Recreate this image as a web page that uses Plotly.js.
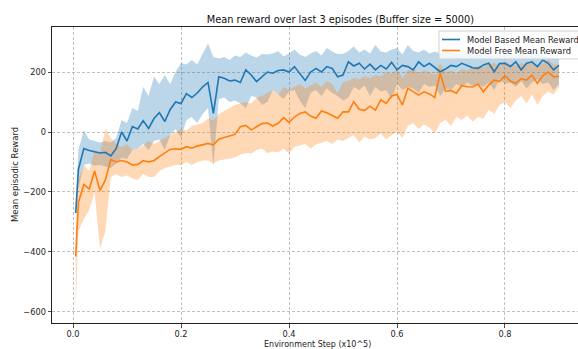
<!DOCTYPE html>
<html>
<head>
<meta charset="utf-8">
<script src="https://cdn.plot.ly/plotly-3.0.1.min.js"></script>
<style>html,body{margin:0;padding:0;background:#fff;}#chart{width:578px;height:349px;}</style>
</head>
<body>
<div id="chart"></div>
<script>
const steps = [0.005,0.01,0.02,0.03,0.04,0.05,0.06,0.07,0.08,0.09,0.10,0.11,0.12,0.13,0.14,0.15,0.16,0.17,0.18,0.19,0.20,0.21,0.22,0.23,0.24,0.25,0.26,0.27,0.28,0.29,0.30,0.31,0.32,0.33,0.34,0.35,0.36,0.37,0.38,0.39,0.40,0.41,0.42,0.43,0.44,0.45,0.46,0.47,0.48,0.49,0.50,0.51,0.52,0.53,0.54,0.55,0.56,0.57,0.58,0.59,0.60,0.61,0.62,0.63,0.64,0.65,0.66,0.67,0.68,0.69,0.70,0.71,0.72,0.73,0.74,0.75,0.76,0.77,0.78,0.79,0.80,0.81,0.82,0.83,0.84,0.85,0.86,0.87,0.88,0.89,0.90];

const basedMean = [-270,-125,-55,-62,-66,-70,-68,-80,-55,0,-30,18,10,38,12,45,65,35,75,100,95,128,115,130,150,165,62,184,179,170,173,165,207,190,168,185,200,196,205,207,200,218,194,172,200,212,200,218,212,184,190,234,220,229,210,226,207,222,210,232,207,222,218,207,234,218,229,215,201,210,222,218,229,222,214,212,223,229,201,228,229,218,234,207,229,234,218,240,229,207,222];
const basedUpper = [-240,-60,5,-25,-30,-35,-30,-35,-20,40,30,80,70,150,120,185,160,190,160,200,230,225,240,225,260,295,250,245,250,240,255,250,265,255,248,260,258,262,270,252,262,275,258,250,262,270,255,280,268,260,260,270,285,265,275,262,290,268,265,275,280,258,290,270,265,275,262,268,262,270,265,260,258,262,258,255,262,258,255,262,258,260,255,262,252,258,260,255,250,248,245];
const basedLower = [-300,-190,-110,-105,-112,-110,-115,-120,-105,-85,-90,-60,-55,-40,-60,-30,-25,-60,-10,10,-20,40,50,30,60,80,-115,110,115,100,105,95,80,120,115,90,100,140,125,110,135,140,105,80,130,140,120,145,130,120,105,115,150,140,155,120,150,135,140,110,160,140,150,145,130,160,150,155,120,145,140,160,150,165,155,160,150,165,140,175,160,165,150,170,145,165,175,160,165,140,160];

const freeMean = [-415,-235,-175,-190,-130,-195,-160,-92,-100,-95,-100,-110,-108,-95,-100,-95,-82,-70,-58,-56,-58,-49,-54,-47,-42,-38,-43,-24,-18,-14,-8,18,22,7,18,28,30,20,29,48,32,50,62,67,53,46,70,64,55,46,67,67,101,76,72,86,73,107,95,120,125,90,146,135,123,134,127,115,196,136,138,129,155,151,150,160,134,157,173,168,188,170,162,178,173,190,162,188,200,184,186];
const freeUpper = [-330,-160,-110,-130,-60,-70,10,-20,-40,-50,-40,-60,-55,-45,-30,-40,-30,-20,-10,0,10,5,20,25,30,45,40,60,70,80,90,95,100,95,115,120,130,140,125,150,140,150,160,145,155,165,150,170,160,130,165,170,180,175,185,180,190,185,200,195,210,180,205,210,195,205,200,190,230,200,205,195,210,205,215,220,215,225,230,220,235,225,220,230,225,235,220,230,240,225,225];
const freeLower = [-590,-330,-290,-260,-200,-390,-330,-150,-140,-150,-145,-155,-160,-140,-150,-150,-130,-120,-115,-110,-110,-100,-110,-100,-95,-95,-105,-95,-90,-88,-85,-75,-70,-72,-60,-55,-70,-65,-68,-55,-72,-50,-45,-40,-55,-42,-35,-30,-40,-25,-30,-20,-10,-35,-15,-25,-20,-5,-25,-10,0,-20,20,30,10,25,15,-5,30,40,20,50,40,55,35,50,45,75,60,90,100,80,105,120,95,125,90,120,135,125,150];

const seriesNames = ['Model Based Mean Reward','Model Free Mean Reward'];
const seriesColors = ['#1f77b4','#ff7f0e'];
const xTicks = [0,0.2,0.4,0.6,0.8];
const xTickText = ['0.0','0.2','0.4','0.6','0.8'];
const yTicks = [-600,-400,-200,0,200];

const W = 578, H = 349, ML = 52, MR = 0, MT = 27, MB = 26;
const PW = W - ML - MR, PH = H - MT - MB;
const px = v => (v - ML) / PW;          // pixel x -> paper x
const py = v => (H - MB - v) / PH;      // pixel y -> paper y

function band(upper, lower, color) {
  return {
    x: steps.concat(steps.slice().reverse()),
    y: upper.concat(lower.slice().reverse()),
    type: 'scatter', mode: 'lines', fill: 'toself',
    fillcolor: color, line: {width: 0}, hoverinfo: 'skip', showlegend: false
  };
}

const traces = [
  band(basedUpper, basedLower, 'rgba(31,119,180,0.3)'),
  band(freeUpper, freeLower, 'rgba(255,127,14,0.3)'),
  {x: steps, y: basedMean, type: 'scatter', mode: 'lines', name: seriesNames[0], line: {color: seriesColors[0], width: 1.6}, showlegend: false},
  {x: steps, y: freeMean, type: 'scatter', mode: 'lines', name: seriesNames[1], line: {color: seriesColors[1], width: 1.6}, showlegend: false}
];

const axisCommon = {
  showgrid: true, gridcolor: '#b0b0b0', griddash: '3px,2px', gridwidth: 0.8,
  zeroline: false, showline: true, linecolor: '#222', linewidth: 1,
  ticks: 'outside', ticklen: 3.5, tickcolor: '#222', tickwidth: 0.8,
  tickfont: {family: 'DejaVu Sans', size: 8.2, color: '#222'}
};

// hand-built legend (matplotlib style, compact)
const legShapes = [
  {type: 'rect', xref: 'paper', yref: 'paper', x0: px(439), x1: px(582), y0: py(31), y1: py(59),
   fillcolor: 'rgba(255,255,255,0.8)', line: {color: '#d0d0d0', width: 1}, layer: 'above'},
  {type: 'line', xref: 'paper', yref: 'paper', x0: px(442), x1: px(460), y0: py(39.5), y1: py(39.5),
   line: {color: seriesColors[0], width: 1.6}, layer: 'above'},
  {type: 'line', xref: 'paper', yref: 'paper', x0: px(442), x1: px(460), y0: py(50.5), y1: py(50.5),
   line: {color: seriesColors[1], width: 1.6}, layer: 'above'}
];
const legAnn = seriesNames.map((n, i) => ({
  text: n, xref: 'paper', yref: 'paper', x: px(465), y: py(i === 0 ? 39.5 : 50.5),
  xanchor: 'left', yanchor: 'middle', showarrow: false,
  font: {family: 'DejaVu Sans', size: 8.3, color: '#222'}
}));

const layout = {
  width: W, height: H,
  margin: {l: ML, r: MR, t: MT, b: MB},
  paper_bgcolor: '#fff', plot_bgcolor: '#fff',
  font: {family: 'DejaVu Sans', color: '#222'},
  title: {text: 'Mean reward over last 3 episodes (Buffer size = 5000)', font: {size: 9.8, family: 'DejaVu Sans', color: '#111'},
          x: (317) / W, xanchor: 'center', xref: 'paper', y: 1 - 19.5 / H, yanchor: 'middle'},
  xaxis: Object.assign({}, axisCommon, {
    range: [-0.0389, 0.9352], tickvals: xTicks, ticktext: xTickText, mirror: true, ticklabelstandoff: 0
  }),
  yaxis: Object.assign({}, axisCommon, {
    range: [-636.7, 350], tickvals: yTicks
  }),
  shapes: legShapes,
  annotations: legAnn.concat([
    {text: 'Environment Step (x10^5)', xref: 'paper', yref: 'paper', x: px(317), y: py(344.2),
     xanchor: 'center', yanchor: 'middle', showarrow: false, font: {family: 'DejaVu Sans', size: 8, color: '#222'}},
    {text: 'Mean episodic Reward', xref: 'paper', yref: 'paper', x: px(15), y: py(175),
     xanchor: 'center', yanchor: 'middle', textangle: -90, showarrow: false, font: {family: 'DejaVu Sans', size: 8.5, color: '#222'}}
  ]),
  showlegend: false
};

Plotly.newPlot('chart', traces, layout, {displayModeBar: false, staticPlot: true});
</script>
</body>
</html>
